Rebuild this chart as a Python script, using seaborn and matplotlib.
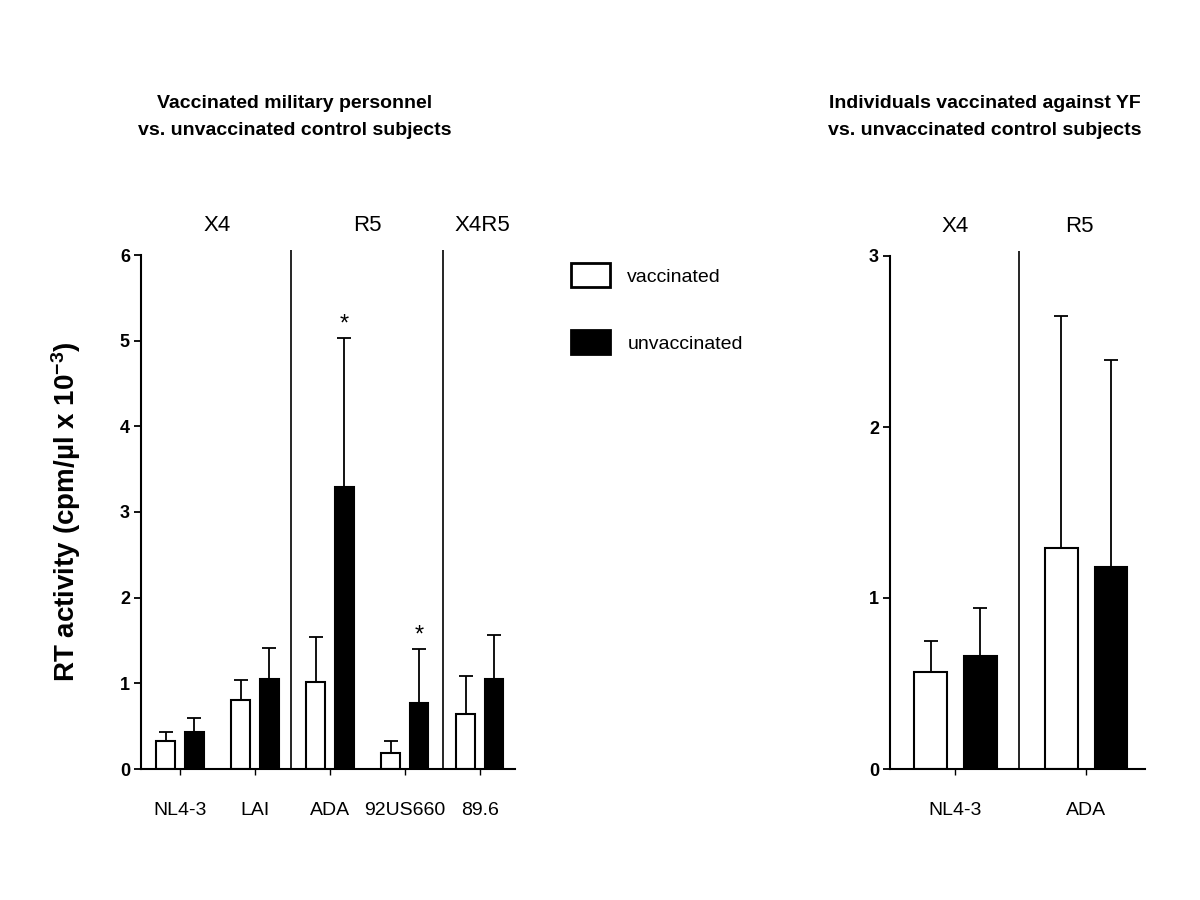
import matplotlib
matplotlib.use('Agg')
import pandas as pd
import matplotlib.pyplot as plt
import seaborn as sns
from matplotlib.patches import Patch

# --- DATA ---
strains_mil = ['NL4-3', 'LAI', 'ADA', '92US660', '89.6']
vacc_mil = [0.33, 0.81, 1.01, 0.19, 0.64]
unvacc_mil = [0.43, 1.05, 3.29, 0.77, 1.05]
vacc_mil_err = [0.10, 0.23, 0.53, 0.14, 0.44]
unvacc_mil_err = [0.16, 0.36, 1.74, 0.63, 0.52]
sig_mil = ['', '', '*', '*', '']

strains_yf = ['NL4-3', 'ADA']
vacc_yf = [0.57, 1.29]
unvacc_yf = [0.66, 1.18]
vacc_yf_err = [0.18, 1.36]
unvacc_yf_err = [0.28, 1.21]
sig_yf = ['', '']

tropism_mil = ['X4', 'R5', 'X4R5']
tropism_yf = ['X4', 'R5']

# --- STYLE ---
sns.set_style('ticks')
plt.rcParams['font.family'] = ['Liberation Sans', 'DejaVu Sans']
plt.rcParams['text.color'] = 'black'
plt.rcParams['axes.edgecolor'] = 'black'
plt.rcParams['axes.labelcolor'] = 'black'
plt.rcParams['xtick.color'] = 'black'
plt.rcParams['ytick.color'] = 'black'
plt.rcParams['mathtext.fontset'] = 'custom'
plt.rcParams['mathtext.rm'] = 'Liberation Sans:bold'
plt.rcParams['mathtext.it'] = 'Liberation Sans:bold'
plt.rcParams['mathtext.default'] = 'rm'

colors = {'vaccinated': 'white', 'unvaccinated': 'black'}


def draw_panel(ax, strains, vacc, unvacc, verr, uerr, sig, ymax, seps, trop, trop_pos, xlim):
    n = len(strains)
    df = pd.DataFrame({
        'strain': strains * 2,
        'group': ['vaccinated'] * n + ['unvaccinated'] * n,
        'rt': vacc + unvacc,
    })
    sns.barplot(data=df, x='strain', y='rt', hue='group', palette=colors,
                edgecolor='black', linewidth=1.5, width=0.76, gap=0.34,
                errorbar=None, legend=False, ax=ax)

    # upward-only error bars (SD), patches are ordered hue-major
    errs = verr + uerr
    stars = [''] * n + sig
    for p, e, s in zip(ax.patches, errs, stars):
        xc = p.get_x() + p.get_width() / 2
        top = p.get_height()
        ax.errorbar(xc, top, yerr=[[0], [e]], fmt='none', ecolor='black',
                    elinewidth=1.3, capsize=5, capthick=1.3, zorder=3)
        if s:
            ax.text(xc, top + e + ymax * 0.005, s, ha='center', va='bottom',
                    fontsize=17)

    ax.set_ylim(0, ymax)
    ax.set_xlim(*xlim)
    ax.vlines(seps, 0, ymax * 1.009, color='black', lw=1.2, clip_on=False)
    for lab, pos in zip(trop, trop_pos):
        ax.text(pos, ymax * 1.058, lab, ha='center', va='center', fontsize=16)

    sns.despine(ax=ax)
    ax.spines['left'].set_linewidth(1.5)
    ax.spines['bottom'].set_linewidth(1.5)
    ax.set_yticks(range(0, int(ymax) + 1))
    ax.tick_params(axis='y', direction='out', length=5, width=1.3, labelsize=13, pad=3)
    ax.tick_params(axis='x', direction='out', length=4, width=1.0, labelsize=14, pad=20)
    for lab in ax.get_yticklabels():
        lab.set_fontweight('bold')
    ax.set_xlabel('')
    ax.set_ylabel('')


fig = plt.figure(figsize=(12, 9), dpi=100)
ax1 = fig.add_axes([141 / 1200, 131 / 900, 374 / 1200, 514 / 900])
ax2 = fig.add_axes([890 / 1200, 131 / 900, 255 / 1200, 513 / 900])

draw_panel(ax1, strains_mil, vacc_mil, unvacc_mil, vacc_mil_err, unvacc_mil_err,
           sig_mil, 6, [1.48, 3.51], tropism_mil, [0.49, 2.5, 4.04], (-0.52, 4.47))
draw_panel(ax2, strains_yf, vacc_yf, unvacc_yf, vacc_yf_err, unvacc_yf_err,
           sig_yf, 3, [0.49], tropism_yf, [0.0, 0.95], (-0.5, 1.45))

# titles
fig.text(295 / 1200, 1 - 117 / 900,
         'Vaccinated military personnel\nvs. unvaccinated control subjects',
         ha='center', va='center', fontsize=14, fontweight='bold',
         linespacing=1.77, multialignment='center')
fig.text(985 / 1200, 1 - 117 / 900,
         'Individuals vaccinated against YF\nvs. unvaccinated control subjects',
         ha='center', va='center', fontsize=14, fontweight='bold',
         linespacing=1.77, multialignment='center')

# shared y label
fig.text(66 / 1200, 1 - 512 / 900, r'RT activity (cpm/µl x 10$^{-3}$)',
         rotation=90, ha='center', va='center', fontsize=20, fontweight='bold')

# legend
handles = [Patch(facecolor='white', edgecolor='black', linewidth=2, label='vaccinated'),
           Patch(facecolor='black', edgecolor='black', linewidth=2, label='unvaccinated')]
fig.legend(handles=handles, loc='upper left', bbox_to_anchor=(571 / 1200, 1 - 263 / 900),
           frameon=False, fontsize=14, handlelength=2.0, handleheight=1.55,
           handletextpad=0.9, labelspacing=2.2, borderpad=0, borderaxespad=0)

fig.savefig('out.png', dpi=100)
